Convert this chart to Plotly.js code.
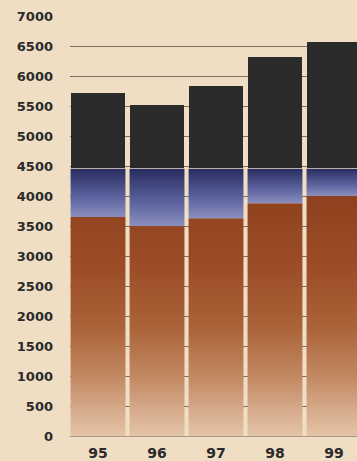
<!DOCTYPE html>
<html>
<head>
<meta charset="utf-8">
<script src="https://cdn.plot.ly/plotly-3.0.1.min.js"></script>
<style>
  html, body { margin: 0; padding: 0; background: #efdec4; }
  #chart { width: 357px; height: 461px; }
</style>
</head>
<body>
<div id="chart"></div>
<script>
// Yearly figures: stacked brown / blue / dark segments
const years = ['95', '96', '97', '98', '99'];
const brownTop = [3650, 3500, 3630, 3880, 4000];
const blueTop = [4455, 4455, 4455, 4455, 4455];
const darkBase = [4475, 4475, 4475, 4475, 4475];
const totals = [5720, 5520, 5830, 6310, 6565];
const yTicks = [0, 500, 1000, 1500, 2000, 2500, 3000, 3500, 4000, 4500, 5000, 5500, 6000, 6500, 7000];

const barWidth = 0.93;
const xIdx = years.map((_, i) => i);

// Rectangle outline for one segment, as polygon points
function rect(i, y0, y1) {
  const a = i - barWidth / 2, b = i + barWidth / 2;
  return { x: [a, b, b, a, a], y: [y0, y0, y1, y1, y0] };
}

const traces = [];

// Brown base segments share one vertical gradient
const bx = [], by = [];
xIdx.forEach(i => {
  const r = rect(i, 0, brownTop[i]);
  bx.push(...r.x, null); by.push(...r.y, null);
});
traces.push({
  type: 'scatter', mode: 'none', x: bx, y: by, fill: 'toself',
  fillgradient: {
    type: 'vertical', start: 0, stop: 4000,
    colorscale: [
      [0, '#e4c4a6'], [0.12, '#d4a888'], [0.25, '#c28862'],
      [0.45, '#ab6339'], [0.7, '#9c4d27'], [1, '#8f411f']
    ]
  },
  hoverinfo: 'skip', showlegend: false
});

// Blue middle segments, each shaded from its own bottom to top
xIdx.forEach(i => {
  const r = rect(i, brownTop[i], blueTop[i]);
  traces.push({
    type: 'scatter', mode: 'none', x: r.x, y: r.y, fill: 'toself',
    fillgradient: {
      type: 'vertical', start: brownTop[i], stop: blueTop[i],
      colorscale: [[0, '#8a8fbd'], [0.4, '#5d64a0'], [1, '#282c5e']]
    },
    hoverinfo: 'skip', showlegend: false
  });
});

// Dark top segments
traces.push({
  type: 'bar', x: xIdx, base: darkBase,
  y: totals.map((t, i) => t - darkBase[i]),
  width: barWidth,
  marker: { color: '#2b2b2b', line: { width: 0 } },
  hoverinfo: 'skip', showlegend: false
});

const layout = {
  width: 357, height: 461,
  margin: { l: 70, r: 0, t: 16, b: 25 },
  paper_bgcolor: '#efdec4',
  plot_bgcolor: '#efdec4',
  font: { family: 'DejaVu Sans', color: '#2a2a2a' },
  xaxis: {
    range: [-0.475, 4.39],
    tickvals: xIdx, ticktext: years,
    tickfont: { size: 14, family: 'DejaVu Sans', weight: 'bold', color: '#2a2a2a' },
    showgrid: false, zeroline: false,
    showline: true, linecolor: '#a8998a', linewidth: 1,
    ticks: '', ticklabelstandoff: 4,
    fixedrange: true
  },
  yaxis: {
    range: [0, 7000],
    tickvals: yTicks,
    tickfont: { size: 13, family: 'DejaVu Sans', weight: 'bold', color: '#2a2a2a' },
    showgrid: true, gridcolor: '#7d6e60', gridwidth: 1,
    zeroline: false, showline: false,
    ticks: '', ticklabelstandoff: 16,
    fixedrange: true
  },
  bargap: 0
};

Plotly.newPlot('chart', traces, layout, { displayModeBar: false, staticPlot: true });
</script>
</body>
</html>
